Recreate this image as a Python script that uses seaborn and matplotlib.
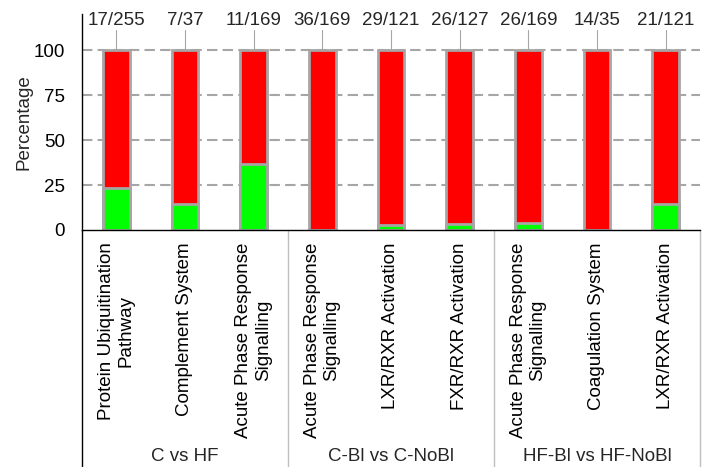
import numpy as np
import pandas as pd
import matplotlib
matplotlib.use('Agg')
import matplotlib.pyplot as plt
import seaborn as sns
from matplotlib.lines import Line2D

sns.set_style('white')
plt.rcParams['font.family'] = ['Liberation Sans', 'DejaVu Sans']

# pathways per comparison
pathways = ['Protein Ubiquitination\nPathway', 'Complement System',
            'Acute Phase Response\nSignalling',
            'Acute Phase Response\nSignalling', 'LXR/RXR Activation', 'FXR/RXR Activation',
            'Acute Phase Response\nSignalling', 'Coagulation System', 'LXR/RXR Activation']
fractions = ['17/255', '7/37', '11/169', '36/169', '29/121', '26/127',
             '26/169', '14/35', '21/121']
green_pct = [23.5, 14.3, 36.5, 0, 3.0, 3.4, 3.8, 0, 14.3]
total_pct = [100] * 9
groups = ['C vs HF', 'C-Bl vs C-NoBl', 'HF-Bl vs HF-NoBl']

df = pd.DataFrame({'key': ['p%d' % i for i in range(len(pathways))],
                   'total': total_pct, 'green': green_pct})

fs = 13.5
fig, ax = plt.subplots(figsize=(7.06, 4.67), dpi=100)
fig.subplots_adjust(left=0.116, right=0.9915, bottom=0.5075, top=0.970)

edge = '#a6a6a6'
sns.barplot(data=df, x='key', y='total', color='#ff0000', saturation=1,
            edgecolor=edge, linewidth=2, width=0.39, ax=ax)
sns.barplot(data=df, x='key', y='green', color='#00ff00', saturation=1,
            edgecolor=edge, linewidth=2, width=0.39, ax=ax)

ax.set_xlim(-0.5, len(pathways) - 0.5)
ax.set_ylim(0, 120)
ax.set_yticks([0, 25, 50, 75, 100])
ax.set_xticks(range(len(pathways)))
ax.set_xticklabels(pathways, rotation=90, va='top', ha='center', fontsize=fs)
ax.tick_params(axis='both', length=0, labelsize=fs, colors='black')
ax.tick_params(axis='y', pad=12)
ax.tick_params(axis='x', pad=9)
ax.set_xlabel('')
ax.set_ylabel('Percentage', fontsize=fs, labelpad=1)

# dashed gridlines behind the bars
for yv in [25, 50, 75, 100]:
    ax.axhline(yv, color=edge, linestyle=(0, (5, 2.5)), linewidth=1.5, zorder=0)

sns.despine(ax=ax)
for s in ['left', 'bottom']:
    ax.spines[s].set_color('black')
    ax.spines[s].set_linewidth(1)

# fraction labels with leader lines
for i, fr in enumerate(fractions):
    ax.plot([i, i], [100, 111], color=edge, lw=0.8, zorder=1)
    ax.text(i, 116.3, fr, ha='center', va='center', fontsize=fs)

# group separators and labels
tr = ax.get_xaxis_transform()
bottom = -(467 - 230) / 216
for j, xs in enumerate([-0.5, 2.5, 5.5, 8.5]):
    c = 'black' if j == 0 else '#bfbfbf'
    ax.add_line(Line2D([xs, xs], [0, bottom], transform=tr, color=c, lw=1, clip_on=False))
for j, g in enumerate(groups):
    ax.text(j * 3 + 1, -1.05, g, transform=tr, ha='center', va='center', fontsize=fs)

fig.savefig('out.png', dpi=100)
